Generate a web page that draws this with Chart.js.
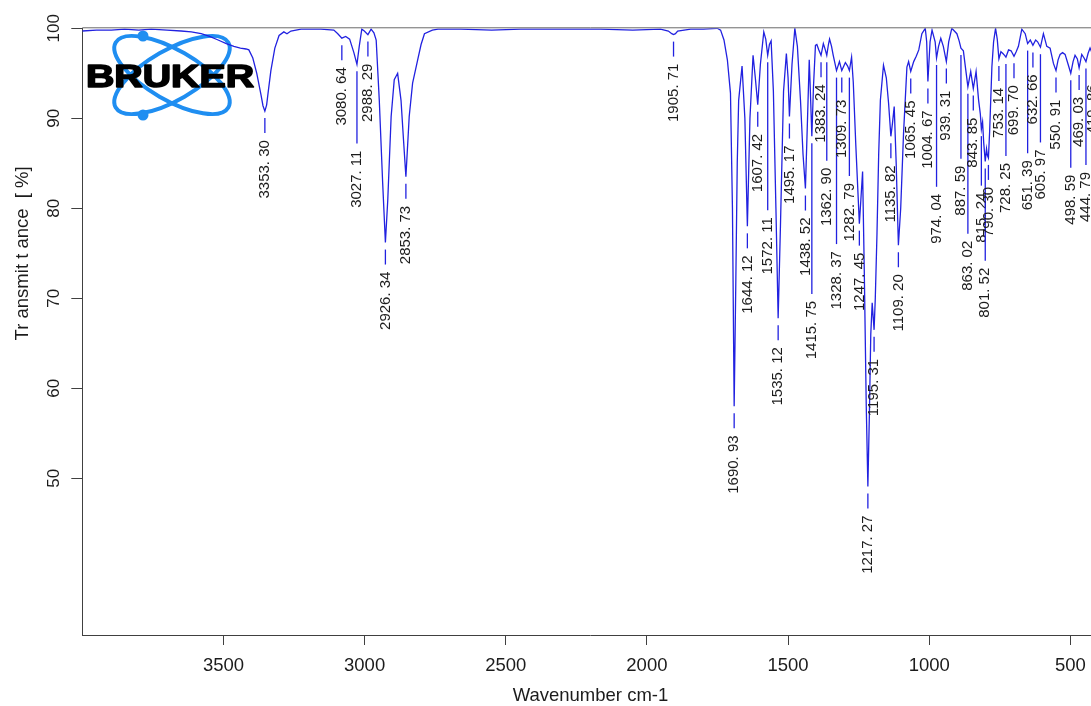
<!DOCTYPE html>
<html>
<head>
<meta charset="utf-8">
<script src="https://cdn.jsdelivr.net/npm/chart.js@4.4.1/dist/chart.umd.min.js"></script>
<style>
  html, body { margin: 0; padding: 0; overflow: hidden; background: #fff; }
  canvas { display: block; }
</style>
</head>
<body>
<canvas id="ir" width="1100" height="706"></canvas>
<script>
// FT-IR spectrum: transmittance (%) against wavenumber (cm-1)
const wavenumbers = [
  4000, 3950, 3897, 3850, 3800, 3756, 3700, 3650, 3614, 3579, 3549, 3519, 3490, 3463, 3440, 3420, 3410,
  3396, 3382, 3367, 3360, 3353.30, 3347, 3342, 3332, 3318, 3303, 3286, 3275, 3261, 3225, 3155, 3109,
  3095, 3080.64, 3067, 3053, 3038, 3027.11, 3019, 3010, 3001, 2988.29, 2977, 2967, 2959, 2948, 2936,
  2926.34, 2918, 2906, 2895, 2883, 2871, 2862, 2853.73, 2842, 2830, 2812, 2800, 2788, 2760, 2740,
  2659, 2550, 2447, 2300, 2164, 2050, 1952, 1924, 1912, 1905.71, 1899, 1891, 1845, 1800, 1751, 1739,
  1727, 1715, 1704, 1697, 1690.93, 1685, 1680, 1675, 1663, 1653, 1644.12, 1635, 1624, 1616, 1607.42,
  1598, 1586, 1579, 1572.11, 1566, 1560, 1552, 1543, 1535.12, 1527, 1516, 1506, 1500, 1495.17, 1486,
  1476, 1467, 1456, 1447, 1438.52, 1431, 1425, 1421, 1415.75, 1410, 1403, 1398, 1391, 1383.24, 1375,
  1368, 1362.90, 1357, 1353, 1346, 1340, 1328.37, 1318, 1309.73, 1297, 1289, 1282.79, 1275, 1269,
  1260, 1247.45, 1242, 1236, 1230, 1223, 1217.27, 1212, 1207, 1202, 1195.31, 1191, 1185, 1179, 1173,
  1162, 1152, 1144, 1135.82, 1130, 1124, 1117, 1109.20, 1101, 1091, 1079, 1073, 1065.45, 1055, 1046,
  1037, 1026, 1014, 1009, 1004.67, 997, 990, 979, 974.04, 967, 959, 950, 939.31, 931, 920, 902, 894,
  887.59, 879, 871, 863.02, 853, 843.85, 834, 825, 819, 815.24, 811, 807, 801.52, 797, 794, 790.30,
  786, 778, 772, 765, 759, 753.14, 746, 739, 733, 728.25, 719, 710, 699.70, 692, 684, 672, 660,
  651.39, 642, 632.66, 623, 616, 605.97, 595.5, 583.5, 571.8, 560, 550.91, 543.5, 536.4, 527.6, 518.7,
  507, 498.59, 490.4, 483.4, 475.2, 469.03, 459.7, 451.5, 444.79, 437.4, 430.3, 419.86, 410, 400
];
const transmittance = [
  99.7, 99.8, 99.8, 99.9, 99.8, 99.9, 99.8, 99.7, 99.6, 99.4, 99.1, 98.7, 98.3, 98.0, 97.8, 97.7, 97.6,
  96.7, 95.0, 92.6, 91.4, 90.8, 91.5, 92.8, 95.3, 97.8, 99.2, 99.6, 99.4, 99.7, 99.9, 99.9, 99.8,
  99.4, 98.9, 99.1, 98.8, 97.3, 96.0, 98.0, 99.9, 99.7, 99.3, 99.9, 99.5, 98.7, 92.0, 82.8,
  76.2, 80.9, 90.2, 94.3, 95.0, 92.0, 87.5, 83.5, 90.2, 93.9, 96.5, 98.2, 99.4, 99.8, 99.9,
  99.9, 99.8, 99.9, 99.9, 99.9, 99.8, 99.9, 99.7, 99.4, 99.3, 99.4, 99.7, 99.9, 99.9, 100.0, 99.8,
  98.7, 96.5, 92.8, 80.0, 58.0, 72.0, 85.0, 92.0, 95.8, 90.0, 78.0, 90.0, 97.0, 94.5, 91.5,
  96.0, 99.6, 98.8, 97.0, 98.2, 98.6, 93.0, 80.0, 67.8, 78.0, 93.0, 97.2, 94.5, 90.2, 96.0,
  100.0, 98.0, 92.0, 86.0, 82.2, 90.0, 96.5, 93.0, 88.0, 93.5, 98.1, 98.2, 97.6, 97.0, 98.3,
  97.6, 97.0, 98.2, 98.8, 98.0, 97.0, 95.3, 96.3, 95.3, 96.2, 95.8, 95.3, 96.8, 94.0,
  87.0, 78.3, 81.0, 84.1, 73.0, 58.0, 49.1, 57.0, 66.0, 69.5, 66.5, 70.0, 77.2, 86.0, 92.0,
  95.9, 94.5, 91.7, 88.0, 89.5, 91.3, 85.0, 75.9, 80.0, 88.3, 95.7, 96.3, 95.2, 96.3, 96.9,
  97.6, 99.4, 100.0, 98.5, 94.1, 98.5, 99.8, 98.5, 96.7, 98.0, 98.9, 98.0, 96.3, 98.5, 100.0, 99.4, 98.6,
  97.8, 97.5, 95.5, 93.5, 95.2, 93.3, 95.2, 92.0, 90.5, 88.8, 89.6, 87.3, 85.2, 86.6, 85.9, 85.6,
  88.5, 95.7, 98.5, 100.0, 98.8, 96.6, 97.4, 97.2, 97.0, 96.8, 97.6, 97.5, 96.9, 97.4, 98.0, 99.9, 99.4,
  98.3, 98.7, 98.1, 98.7, 98.5, 97.9, 99.4, 98.0, 97.8, 96.1, 95.3, 96.5, 97.1, 97.3, 97.1,
  95.9, 95.0, 96.3, 97.0, 96.6, 95.6, 97.1, 96.7, 96.3, 97.2, 97.8, 97.0, 97.6, 98.0
];
// picked peaks (cm-1)
const peakWavenumbers = [
  3353.30, 3080.64, 3027.11, 2988.29, 2926.34, 2853.73, 1905.71, 1690.93, 1644.12, 1607.42, 1572.11,
  1535.12, 1495.17, 1438.52, 1415.75, 1383.24, 1362.90, 1328.37, 1309.73, 1282.79, 1247.45, 1217.27,
  1195.31, 1135.82, 1109.20, 1065.45, 1004.67, 974.04, 939.31, 887.59, 863.02, 843.85, 815.24,
  801.52, 790.30, 753.14, 728.25, 699.70, 651.39, 632.66, 605.97, 550.91, 498.59, 469.03, 444.79, 419.86
];
const xTickValues = [3500, 3000, 2500, 2000, 1500, 1000, 500];
const yTickValues = [50, 60, 70, 80, 90, 100];
const xTitle = 'Wavenumber cm-1';
const yTitle = 'Tr ansmit t ance  [ %]';
const brandName = 'BRUKER';

const FONT = '"Liberation Sans", Arial, Helvetica, sans-serif';
const LINE_BLUE = '#2121e0';
const INK = '#1c1c1c';
const AXIS = '#404040';

// "3353.30" -> "3353. 30"
const peakText = wn => { const [a, b] = wn.toFixed(2).split('.'); return a + '. ' + b; };

// linear interpolation of the spectrum at a wavenumber
function spectrumAt(wn) {
  for (let i = 0; i < wavenumbers.length - 1; i++) {
    const a = wavenumbers[i], b = wavenumbers[i + 1];
    if (wn <= a && wn >= b) {
      const t = a === b ? 0 : (a - wn) / (a - b);
      return transmittance[i] + t * (transmittance[i + 1] - transmittance[i]);
    }
  }
  return transmittance[transmittance.length - 1];
}

const points = wavenumbers.map((w, i) => ({ x: w, y: transmittance[i] }));

// peak labels: leader below each minimum, vertical text;
// a label that would crowd its left-hand neighbour drops below it
const peakLabels = {
  id: 'peakLabels',
  afterDatasetsDraw(chart) {
    const { ctx, scales: { x: xs, y: ys } } = chart;
    const DROP = 29, SEP = 15.3, GAP = 10.5, PUSH = 25;
    ctx.save();
    ctx.font = '15px ' + FONT;
    const items = peakWavenumbers.map(wn => ({
      text: peakText(wn),
      x: xs.getPixelForValue(wn),
      py: ys.getPixelForValue(spectrumAt(wn))
    })).sort((a, b) => a.x - b.x);
    let prev = null;
    for (const it of items) {
      const len = ctx.measureText(it.text).width;
      let top = it.py + DROP;
      if (prev && Math.abs(prev.x - it.x) < SEP &&
          top < prev.bottom + GAP && prev.top < top + len + GAP) {
        top = prev.bottom + PUSH;
      }
      it.top = top; it.bottom = top + len;
      prev = it;
    }
    ctx.strokeStyle = LINE_BLUE;
    ctx.lineWidth = 1.3;
    ctx.fillStyle = INK;
    for (const it of items) {
      ctx.beginPath();
      ctx.moveTo(it.x, it.py + 7);
      ctx.lineTo(it.x, it.top - 7);
      ctx.stroke();
      ctx.save();
      ctx.translate(it.x, it.bottom);
      ctx.rotate(-Math.PI / 2);
      ctx.textAlign = 'left';
      ctx.textBaseline = 'middle';
      ctx.fillText(it.text, 0, 0);
      ctx.restore();
    }
    ctx.restore();
  }
};

// frame extras: top border, rotated y tick labels, axis titles
const frame = {
  id: 'frame',
  afterDraw(chart) {
    const { ctx, chartArea: ca, scales: { y: ys } } = chart;
    ctx.save();
    ctx.strokeStyle = '#6a6a6a';
    ctx.lineWidth = 1;
    ctx.beginPath();
    ctx.moveTo(ca.left, ca.top - 0.5);
    ctx.lineTo(ca.right, ca.top - 0.5);
    ctx.stroke();

    ctx.fillStyle = INK;
    ctx.font = '17px ' + FONT;
    ctx.textAlign = 'center';
    ctx.textBaseline = 'alphabetic';
    for (const v of yTickValues) {
      ctx.save();
      ctx.translate(58.5, ys.getPixelForValue(v));
      ctx.rotate(-Math.PI / 2);
      ctx.fillText(String(v), 0, 0);
      ctx.restore();
    }

    ctx.font = '18.5px ' + FONT;
    ctx.save();
    ctx.translate(28, ys.getPixelForValue(75));
    ctx.rotate(-Math.PI / 2);
    ctx.fillText(yTitle, 0, 0);
    ctx.restore();

    ctx.fillText(xTitle, (ca.left + ca.right) / 2, 701);
    ctx.restore();
  }
};

// instrument logo in the upper left corner
const logo = {
  id: 'logo',
  beforeDatasetsDraw(chart) {
    const { ctx } = chart;
    const cx = 172, cy = 75;
    ctx.save();
    ctx.strokeStyle = '#1f8ef1';
    ctx.fillStyle = '#1f8ef1';
    ctx.lineWidth = 4;
    for (const rot of [Math.PI / 6, -Math.PI / 6]) {
      ctx.beginPath();
      ctx.ellipse(cx, cy, 65, 25, rot, 0, Math.PI * 2);
      ctx.stroke();
    }
    for (const [dx, dy] of [[143, 36], [143, 115]]) {
      ctx.beginPath();
      ctx.arc(dx, dy, 5.5, 0, Math.PI * 2);
      ctx.fill();
    }
    ctx.font = 'bold 32px ' + FONT;
    ctx.textBaseline = 'alphabetic';
    ctx.textAlign = 'left';
    const w = ctx.measureText(brandName).width;
    ctx.translate(86, 87);
    ctx.scale(168 / w, 1);
    ctx.fillStyle = '#000';
    ctx.strokeStyle = '#000';
    ctx.lineWidth = 1.6;
    ctx.lineJoin = 'round';
    ctx.strokeText(brandName, 0, 0);
    ctx.fillText(brandName, 0, 0);
    ctx.restore();
  }
};

new Chart(document.getElementById('ir'), {
  type: 'line',
  data: {
    datasets: [{
      data: points,
      borderColor: LINE_BLUE,
      borderWidth: 1.3,
      pointRadius: 0,
      tension: 0,
      fill: false
    }]
  },
  options: {
    responsive: false,
    animation: false,
    layout: { padding: { top: 28.3, right: 1.4, left: 0, bottom: 0 } },
    plugins: { legend: { display: false }, tooltip: { enabled: false } },
    scales: {
      x: {
        type: 'linear',
        reverse: true,
        min: 400,
        max: 4000,
        afterBuildTicks: s => { s.ticks = xTickValues.map(v => ({ value: v })); },
        afterFit: s => { s.height = 71; },
        ticks: {
          autoSkip: false,
          maxRotation: 0,
          padding: 10,
          color: INK,
          font: { family: FONT, size: 18.5 },
          callback: v => String(v)
        },
        grid: { drawOnChartArea: false, drawTicks: true, tickLength: 10, color: AXIS, lineWidth: 1 },
        border: { display: true, color: AXIS, width: 1 }
      },
      y: {
        type: 'linear',
        min: 32.6,
        max: 100,
        afterBuildTicks: s => { s.ticks = yTickValues.map(v => ({ value: v })); },
        afterFit: s => { s.width = 82.3; },
        ticks: { display: false },
        grid: { drawOnChartArea: false, drawTicks: true, tickLength: 11, color: AXIS, lineWidth: 1 },
        border: { display: true, color: AXIS, width: 1 }
      }
    }
  },
  plugins: [logo, peakLabels, frame]
});
</script>
</body>
</html>
